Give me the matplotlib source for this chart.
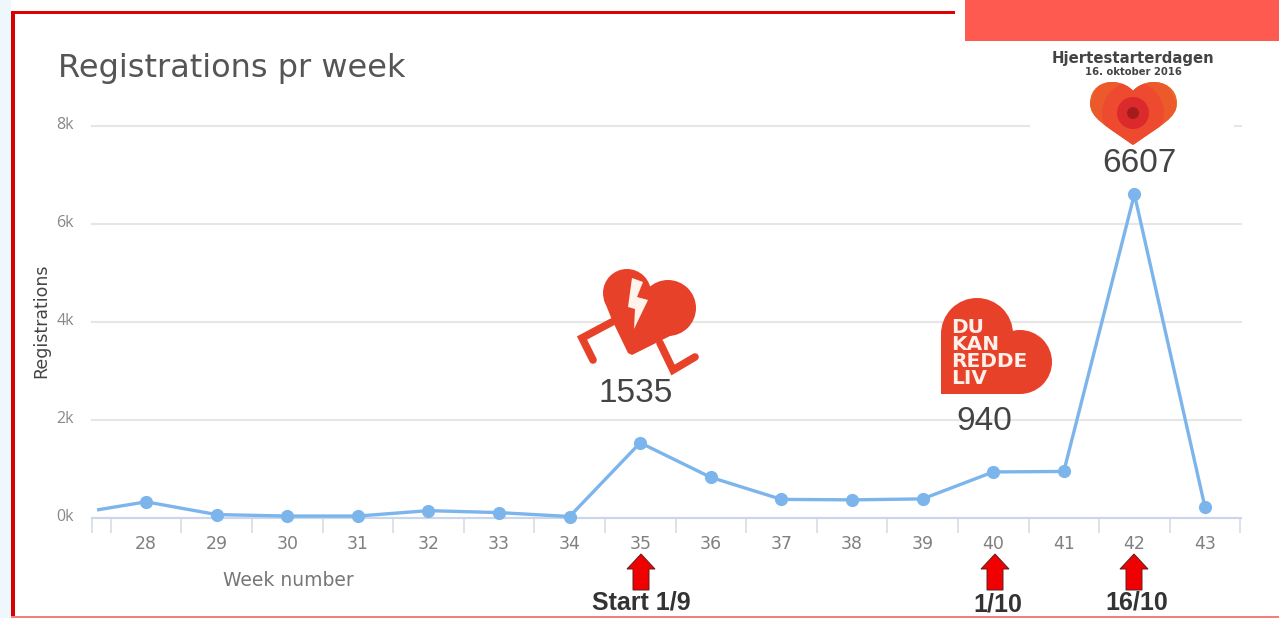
"""
Registrations pr week, with campaign logos and start markers
"""
import numpy as np
import matplotlib.pyplot as plt
from matplotlib.patches import Rectangle, Circle, Polygon, PathPatch, FancyArrow
from matplotlib.path import Path
from matplotlib.transforms import ScaledTranslation
"""
Data read off the picture. The first point is where the line enters at the left.
"""
weeks = [27.33, 28, 29, 30, 31, 32, 33, 34, 35, 36, 37, 38, 39, 40, 41, 42, 43]
registrations = [170, 330, 70, 40, 40, 150, 110, 30, 1535, 830, 380, 370, 390, 940, 950, 6607, 220]
week_ticks = [28, 29, 30, 31, 32, 33, 34, 35, 36, 37, 38, 39, 40, 41, 42, 43]
y_ticks = [0, 2000, 4000, 6000, 8000]
y_labels = ['0k', '2k', '4k', '6k', '8k']
W, H = 1279, 618
grey, red_logo = '#555555', '#E8412A'
fig = plt.figure(figsize=(W/100, H/100), dpi=100, facecolor='white')
"""
Full size layer in pixel coordinates for the page behind the chart
"""
bg = fig.add_axes([0, 0, 1, 1], zorder=0)
bg.set_xlim(0, W)
bg.set_ylim(H, 0)
bg.axis('off')
bg.add_patch(Rectangle((0, 0), 11, H, color='#EEF7FC', lw=0))
"""
The chart itself
"""
left, right, bottom, top = 92, 1241, 518, 126
ax = fig.add_axes([left/W, 1-bottom/H, (right-left)/W, (bottom-top)/H], zorder=1)
ax.patch.set_alpha(0)
ax.set_xlim(28+(left-146)/70.6, 28+(right-146)/70.6)
ax.set_ylim(0, 8000)
for s in ['top', 'right', 'left']:
    ax.spines[s].set_visible(False)
ax.spines['bottom'].set_color('#CCD6EB')
ax.spines['bottom'].set_linewidth(1.5)
ax.set_yticks(y_ticks)
ax.set_yticklabels(y_labels, family='Open Sans', fontsize=11.5, color='#888888')
ax.tick_params(axis='y', length=0, pad=13)
for lab in ax.get_yticklabels():
    lab.set_transform(lab.get_transform()+ScaledTranslation(0, 3/100, fig.dpi_scale_trans))
ax.grid(axis='y', color='#E6E6E6', linewidth=1.5)
for g in ax.get_ygridlines():
    g.set_clip_on(False)
ax.set_axisbelow(True)
ax.set_xticks([ax.get_xlim()[0]]+[w-0.5 for w in week_ticks]+[week_ticks[-1]+0.5])
ax.set_xticklabels([])
ax.tick_params(axis='x', length=11, width=1.2, color='#D5DBE8')
ax.plot(weeks, registrations, color='#7CB5EC', linewidth=2.4, clip_on=False, zorder=3)
ax.plot(weeks[1:], registrations[1:], 'o', color='#7CB5EC', markersize=9.5, markeredgewidth=0, clip_on=False, zorder=4)
for w in week_ticks:
    ax.text(w, -530, str(w), ha='center', va='center', family='DejaVu Sans', fontsize=12.5, color='#808080')
"""
Overlay for frame, logos and notes
"""
top_ax = fig.add_axes([0, 0, 1, 1], zorder=2)
top_ax.set_xlim(0, W)
top_ax.set_ylim(H, 0)
top_ax.axis('off')
top_ax.add_patch(Rectangle((965, 0), W-965, 41, color='#FF5A50', lw=0))
top_ax.add_patch(Rectangle((11, 11), 944, 3, color='#E00000', lw=0))
top_ax.add_patch(Rectangle((11, 11), 4, H, color='#D80000', lw=0))
top_ax.add_patch(Rectangle((11, 616), W, 2, color='#F08080', lw=0))
# white behind the pasted heart logo
top_ax.add_patch(Rectangle((1030, 50), 204, 130, color='white', lw=0))
top_ax.text(58, 68, 'Registrations pr week', ha='left', va='center', family='DejaVu Sans', fontsize=23, color=grey)
top_ax.text(41, 321, 'Registrations', rotation=90, ha='center', va='center', family='DejaVu Sans', fontsize=12.5, color='#444444')
top_ax.text(288, 580, 'Week number', ha='center', va='center', family='DejaVu Sans', fontsize=13.5, color='#777777')
# running heart, week 35
for c, r in [((627, 293), 24), ((668, 308), 28)]:
    top_ax.add_patch(Circle(c, r, color=red_logo, lw=0))
top_ax.add_patch(Polygon([(604, 300), (612, 320), (628, 353), (632, 355), (688, 327), (668, 300), (650, 288), (627, 285)], color=red_logo, lw=0))
top_ax.plot([612, 582, 593], [322, 338, 360], color=red_logo, lw=5.5, solid_capstyle='round', solid_joinstyle='miter')
top_ax.plot([660, 673, 695], [343, 370, 357], color=red_logo, lw=5.5, solid_capstyle='round', solid_joinstyle='miter')
top_ax.add_patch(Polygon([(632, 278), (643, 282), (637, 297), (648, 300), (634, 329), (635, 309), (628, 307)], color='#FFF3EC', lw=0))
# "du kan redde liv" heart, week 40
for c, r in [((977, 334), 36), ((1020, 362), 32)]:
    top_ax.add_patch(Circle(c, r, color=red_logo, lw=0))
top_ax.add_patch(Polygon([(941, 334), (977, 300), (1010, 345), (1020, 394), (941, 394)], color=red_logo, lw=0))
top_ax.text(951, 353, 'DU\nKAN\nREDDE\nLIV', ha='left', va='center', family='DejaVu Sans', fontweight='bold', fontsize=14.5, linespacing=0.85, color='#FFF0EA')
# Hjertestarterdagen heart, week 42
verts = [(1133, 145), (1105, 125), (1090, 118), (1090, 103), (1090, 88), (1102, 82), (1112, 82),
         (1122, 82), (1130, 87), (1133, 91), (1136, 87), (1144, 82), (1154, 82), (1164, 82),
         (1177, 88), (1177, 103), (1177, 118), (1161, 125), (1133, 145)]
codes = [Path.MOVETO]+[Path.CURVE4]*18
heart = PathPatch(Path(verts, codes), facecolor='#EA6A25', lw=0)
top_ax.add_patch(heart)
for r, col in [(44, '#EC5A2B'), (31, '#EE4A30'), (16, '#DC2A2C'), (6, '#A51C1C')]:
    c = Circle((1133, 113), r, color=col, lw=0)
    top_ax.add_patch(c)
    c.set_clip_path(heart)
top_ax.text(1133, 59, 'Hjertestarterdagen', ha='center', va='center', family='DejaVu Sans', fontweight='bold', fontsize=10.7, color='#444444')
top_ax.text(1133, 72, '16. oktober 2016', ha='center', va='center', family='DejaVu Sans', fontweight='bold', fontsize=7.2, color='#444444')
# values over the peaks
for txt, x, y in [('1535', 636, 394), ('940', 984, 422), ('6607', 1139, 164)]:
    top_ax.text(x, y, txt, ha='center', va='center', family='Liberation Sans', fontsize=24, color='#444444')
# arrows and dates under the axis
for x, txt, tx, ty in [(641, 'Start 1/9', 641, 602), (995, '1/10', 998, 605), (1134, '16/10', 1137, 603)]:
    top_ax.add_patch(FancyArrow(x, 590, 0, -36, width=16, head_width=28, head_length=15, length_includes_head=True,
                                facecolor='#F00000', edgecolor='#602020', lw=0.7))
    top_ax.text(tx, ty, txt, ha='center', va='center', family='Liberation Sans', fontweight='bold', fontsize=18, color='#333333')
plt.savefig('out.png', dpi=100, facecolor=fig.get_facecolor())
plt.close()
